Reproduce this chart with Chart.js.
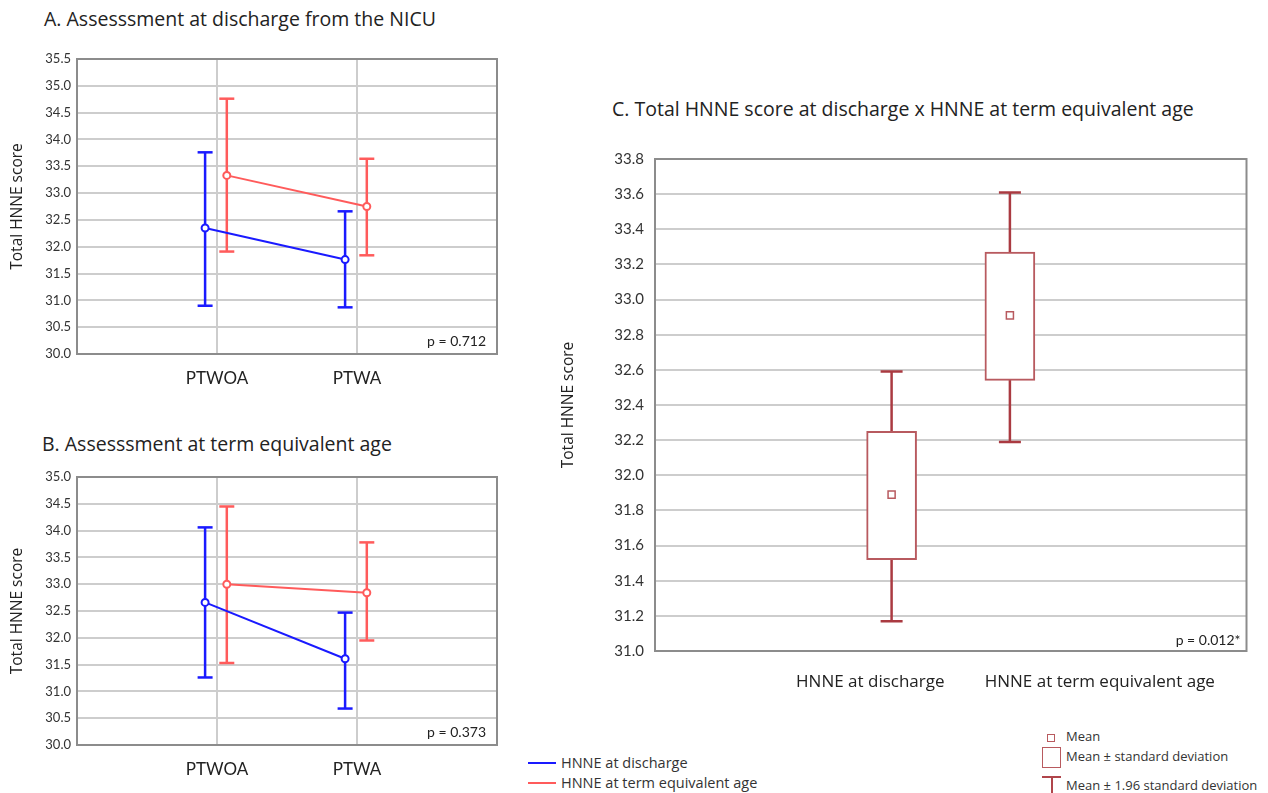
<!DOCTYPE html>
<html>
<head>
<meta charset="utf-8">
<script src="https://cdn.jsdelivr.net/npm/chart.js@4.4.1/dist/chart.umd.min.js"></script>
<style>
  body { margin: 0; background: #fff; font-family: "Open Sans", sans-serif; color: #222; }
  #page { position: relative; width: 1268px; height: 793px; overflow: hidden; }
  .abs { position: absolute; }
  .title { font-size: 19.5px; line-height: 24px; white-space: nowrap; color: #222; }
  .leg { font-size: 14.5px; line-height: 18px; white-space: nowrap; color: #333; }
  .leg2 { font-size: 13px; line-height: 16px; white-space: nowrap; color: #333; }
</style>
</head>
<body>
<div id="page">
  <div class="abs title" style="left:44px; top:7px;">A. Assesssment at discharge from the NICU</div>
  <div class="abs title" style="left:42px; top:432px;">B. Assesssment at term equivalent age</div>
  <div class="abs title" style="left:612px; top:97px;">C. Total HNNE score at discharge x HNNE at term equivalent age</div>

  <div class="abs" style="left:0; top:40px;"><canvas id="chartA" width="510" height="350"></canvas></div>
  <div class="abs" style="left:0; top:458px;"><canvas id="chartB" width="510" height="323"></canvas></div>
  <div class="abs" style="left:540px; top:130px;"><canvas id="chartC" width="720" height="580"></canvas></div>

  <!-- legend, left -->
  <div class="abs" style="left:528px; top:762px; width:28px; height:2px; background:#1a1aff;"></div>
  <div class="abs leg" style="left:561px; top:754px;">HNNE at discharge</div>
  <div class="abs" style="left:528px; top:782px; width:28px; height:2px; background:#ff5b5b;"></div>
  <div class="abs leg" style="left:561px; top:774px;">HNNE at term equivalent age</div>

  <!-- legend, right -->
  <div class="abs" style="left:1047px; top:734px; width:8px; height:8px; border:1.5px solid #b85a5f; box-sizing:border-box;"></div>
  <div class="abs leg2" style="left:1066px; top:728px;">Mean</div>
  <div class="abs" style="left:1042px; top:747px; width:19px; height:21px; border:1.5px solid #b85a5f; box-sizing:border-box;"></div>
  <div class="abs leg2" style="left:1066px; top:748px;">Mean ± standard deviation</div>
  <div class="abs" style="left:1042px; top:776px; width:19px; height:2px; background:#b0454b;"></div>
  <div class="abs" style="left:1051px; top:777px; width:2px; height:16px; background:#b0454b;"></div>
  <div class="abs leg2" style="left:1066px; top:777px;">Mean ± 1.96 standard deviation</div>
</div>

<script>
// groups on the x axis of panels A and B
var groups = ['PTWOA', 'PTWA'];
var groupPos = [1, 2];

// Panel A - assessment at discharge from the NICU
var aDisMean = [32.35, 31.76];
var aDisLow = [30.90, 30.87];
var aDisHigh = [33.76, 32.66];
var aTermMean = [33.33, 32.75];
var aTermLow = [31.91, 31.84];
var aTermHigh = [34.76, 33.64];

// Panel B - assessment at term equivalent age
var bDisMean = [32.66, 31.61];
var bDisLow = [31.26, 30.68];
var bDisHigh = [34.06, 32.47];
var bTermMean = [33.00, 32.84];
var bTermLow = [31.53, 31.95];
var bTermHigh = [34.45, 33.78];

// Panel C - mean, mean +/- SD, mean +/- 1.96 SD
var boxCats = ['HNNE at discharge', 'HNNE at term equivalent age'];
var boxPos = [2, 3];
var boxLabelPos = [1.82, 3.76];
var boxMean = [31.89, 32.91];
var boxSdLow = [31.52, 32.54];
var boxSdHigh = [32.25, 33.27];
var boxCiLow = [31.17, 32.19];
var boxCiHigh = [32.59, 33.61];

var pValues = ['p = 0.712', 'p = 0.373', 'p = 0.012*'];

var BLUE = '#1a1aff';
var RED = '#ff5b5b';
var DARKRED = '#aa3a41';
var BOXRED = '#b85a5f';
var GRID = '#cdcdcd';
var FRAME = '#8c8c8c';
var TEXTFONT = '"Open Sans", sans-serif';

Chart.defaults.font.family = 'Lato, sans-serif';
Chart.defaults.color = '#333';

// 外框 + p 值
var framePlugin = {
    id: 'frame',
    beforeDatasetsDraw: function(chart) {
        var a = chart.chartArea, ctx = chart.ctx;
        ctx.save();
        ctx.strokeStyle = FRAME;
        ctx.lineWidth = 2;
        ctx.strokeRect(a.left, a.top, a.right - a.left, a.bottom - a.top);
        ctx.restore();
    },
    afterDatasetsDraw: function(chart, args, opts) {
        if (!opts.text) return;
        var a = chart.chartArea, ctx = chart.ctx;
        ctx.save();
        ctx.font = (opts.size || 14) + 'px Lato, sans-serif';
        ctx.fillStyle = '#222';
        ctx.textAlign = 'right';
        ctx.textBaseline = 'middle';
        ctx.fillText(opts.text, a.right - opts.dx, a.bottom - opts.dy);
        ctx.restore();
    }
};

function errorSets(low, high, color, shift, cap) {
    return groupPos.map(function(p, i) {
        return {
            data: [{x: p + shift, y: low[i]}, {x: p + shift, y: high[i]}],
            showLine: true,
            borderColor: color,
            borderWidth: 2.5,
            pointStyle: 'line',
            pointRadius: cap,
            pointHoverRadius: cap,
            pointBorderColor: color,
            pointBorderWidth: 2.5,
            order: 2
        };
    });
}

function meanSet(mean, color, shift) {
    return {
        data: groupPos.map(function(p, i) { return {x: p + shift, y: mean[i]}; }),
        showLine: true,
        borderColor: color,
        borderWidth: 2,
        pointRadius: 3.5,
        pointHoverRadius: 3.5,
        pointBackgroundColor: '#fff',
        pointBorderColor: color,
        pointBorderWidth: 2,
        order: 1
    };
}

function groupChart(id, dis, term, yMax, pText) {
    var datasets = []
        .concat(errorSets(dis.low, dis.high, BLUE, -0.085, 7.5))
        .concat(errorSets(term.low, term.high, RED, 0.07, 7.5))
        .concat([meanSet(term.mean, RED, 0.07), meanSet(dis.mean, BLUE, -0.085)]);
    return new Chart(document.getElementById(id), {
        type: 'scatter',
        data: { datasets: datasets },
        options: {
            responsive: false,
            animation: false,
            layout: { padding: { top: 19, right: 13, left: 0, bottom: 0 } },
            plugins: {
                legend: { display: false },
                tooltip: { enabled: false },
                frame: { text: pText, dx: 11, dy: 13, size: 14 }
            },
            scales: {
                x: {
                    type: 'linear', min: 0, max: 3, offset: false,
                    afterBuildTicks: function(s) { s.ticks = groupPos.map(function(v) { return {value: v}; }); },
                    afterFit: function(s) { s.height = 36; },
                    ticks: {
                        padding: 14, autoSkip: false, maxRotation: 0,
                        font: { size: 17 }, color: '#222',
                        callback: function(v, i) { return groups[i]; }
                    },
                    grid: { color: GRID, lineWidth: 2, drawTicks: false },
                    border: { display: false }
                },
                y: {
                    min: 30, max: yMax,
                    afterFit: function(s) { s.width = 77; },
                    ticks: {
                        stepSize: 0.5, padding: 6, font: { size: 13 }, color: '#333',
                        callback: function(v) { return v.toFixed(1); }
                    },
                    grid: { color: GRID, lineWidth: 2, drawTicks: false },
                    border: { display: false },
                    title: { display: true, text: 'Total HNNE score', font: { family: TEXTFONT, size: 15.5 }, color: '#222', padding: { top: 8, bottom: 0 } }
                }
            }
        },
        plugins: [framePlugin]
    });
}

groupChart('chartA',
    { mean: aDisMean, low: aDisLow, high: aDisHigh },
    { mean: aTermMean, low: aTermLow, high: aTermHigh },
    35.5, pValues[0]);

groupChart('chartB',
    { mean: bDisMean, low: bDisLow, high: bDisHigh },
    { mean: bTermMean, low: bTermLow, high: bTermHigh },
    35, pValues[1]);

// 箱线图 (均值 ± SD, 均值 ± 1.96 SD)
var whiskers = boxPos.map(function(p, i) {
    return {
        type: 'scatter',
        data: [{x: p, y: boxCiLow[i]}, {x: p, y: boxCiHigh[i]}],
        showLine: true,
        borderColor: DARKRED,
        borderWidth: 2.5,
        pointStyle: 'line',
        pointRadius: 11,
        pointHoverRadius: 11,
        pointBorderColor: DARKRED,
        pointBorderWidth: 2.5,
        order: 3
    };
});

new Chart(document.getElementById('chartC'), {
    type: 'scatter',
    data: {
        datasets: whiskers.concat([
            {
                type: 'bar',
                data: boxPos.map(function(p, i) { return {x: p, y: [boxSdLow[i], boxSdHigh[i]]}; }),
                backgroundColor: '#fff',
                borderColor: BOXRED,
                borderWidth: 2,
                borderSkipped: false,
                barThickness: 50,
                order: 2
            },
            {
                type: 'scatter',
                data: boxPos.map(function(p, i) { return {x: p, y: boxMean[i]}; }),
                pointStyle: 'rect',
                pointRadius: 5,
                pointHoverRadius: 5,
                pointBackgroundColor: '#fff',
                pointBorderColor: BOXRED,
                pointBorderWidth: 1.5,
                order: 1
            }
        ])
    },
    options: {
        responsive: false,
        animation: false,
        layout: { padding: { top: 29, right: 13, left: 0, bottom: 0 } },
        plugins: {
            legend: { display: false },
            tooltip: { enabled: false },
            frame: { text: pValues[2], dx: 6, dy: 11, size: 14 }
        },
        scales: {
            x: {
                type: 'linear', min: 0, max: 5, offset: false,
                afterBuildTicks: function(s) { s.ticks = boxLabelPos.map(function(v) { return {value: v}; }); },
                afterFit: function(s) { s.height = 59; },
                ticks: {
                    padding: 21, autoSkip: false, maxRotation: 0,
                    font: { family: TEXTFONT, size: 17 }, color: '#222',
                    callback: function(v, i) { return boxCats[i]; }
                },
                grid: { display: false, drawTicks: false },
                border: { display: false }
            },
            y: {
                min: 31, max: 33.8,
                afterFit: function(s) { s.width = 115; },
                ticks: {
                    stepSize: 0.2, padding: 11, font: { size: 15 }, color: '#333',
                    callback: function(v) { return v.toFixed(1); }
                },
                grid: { color: GRID, lineWidth: 2, drawTicks: false },
                border: { display: false },
                title: { display: true, text: 'Total HNNE score', font: { family: TEXTFONT, size: 15.5 }, color: '#222', padding: { top: 19, bottom: 0 } }
            }
        }
    },
    plugins: [framePlugin]
});
</script>
</body>
</html>
